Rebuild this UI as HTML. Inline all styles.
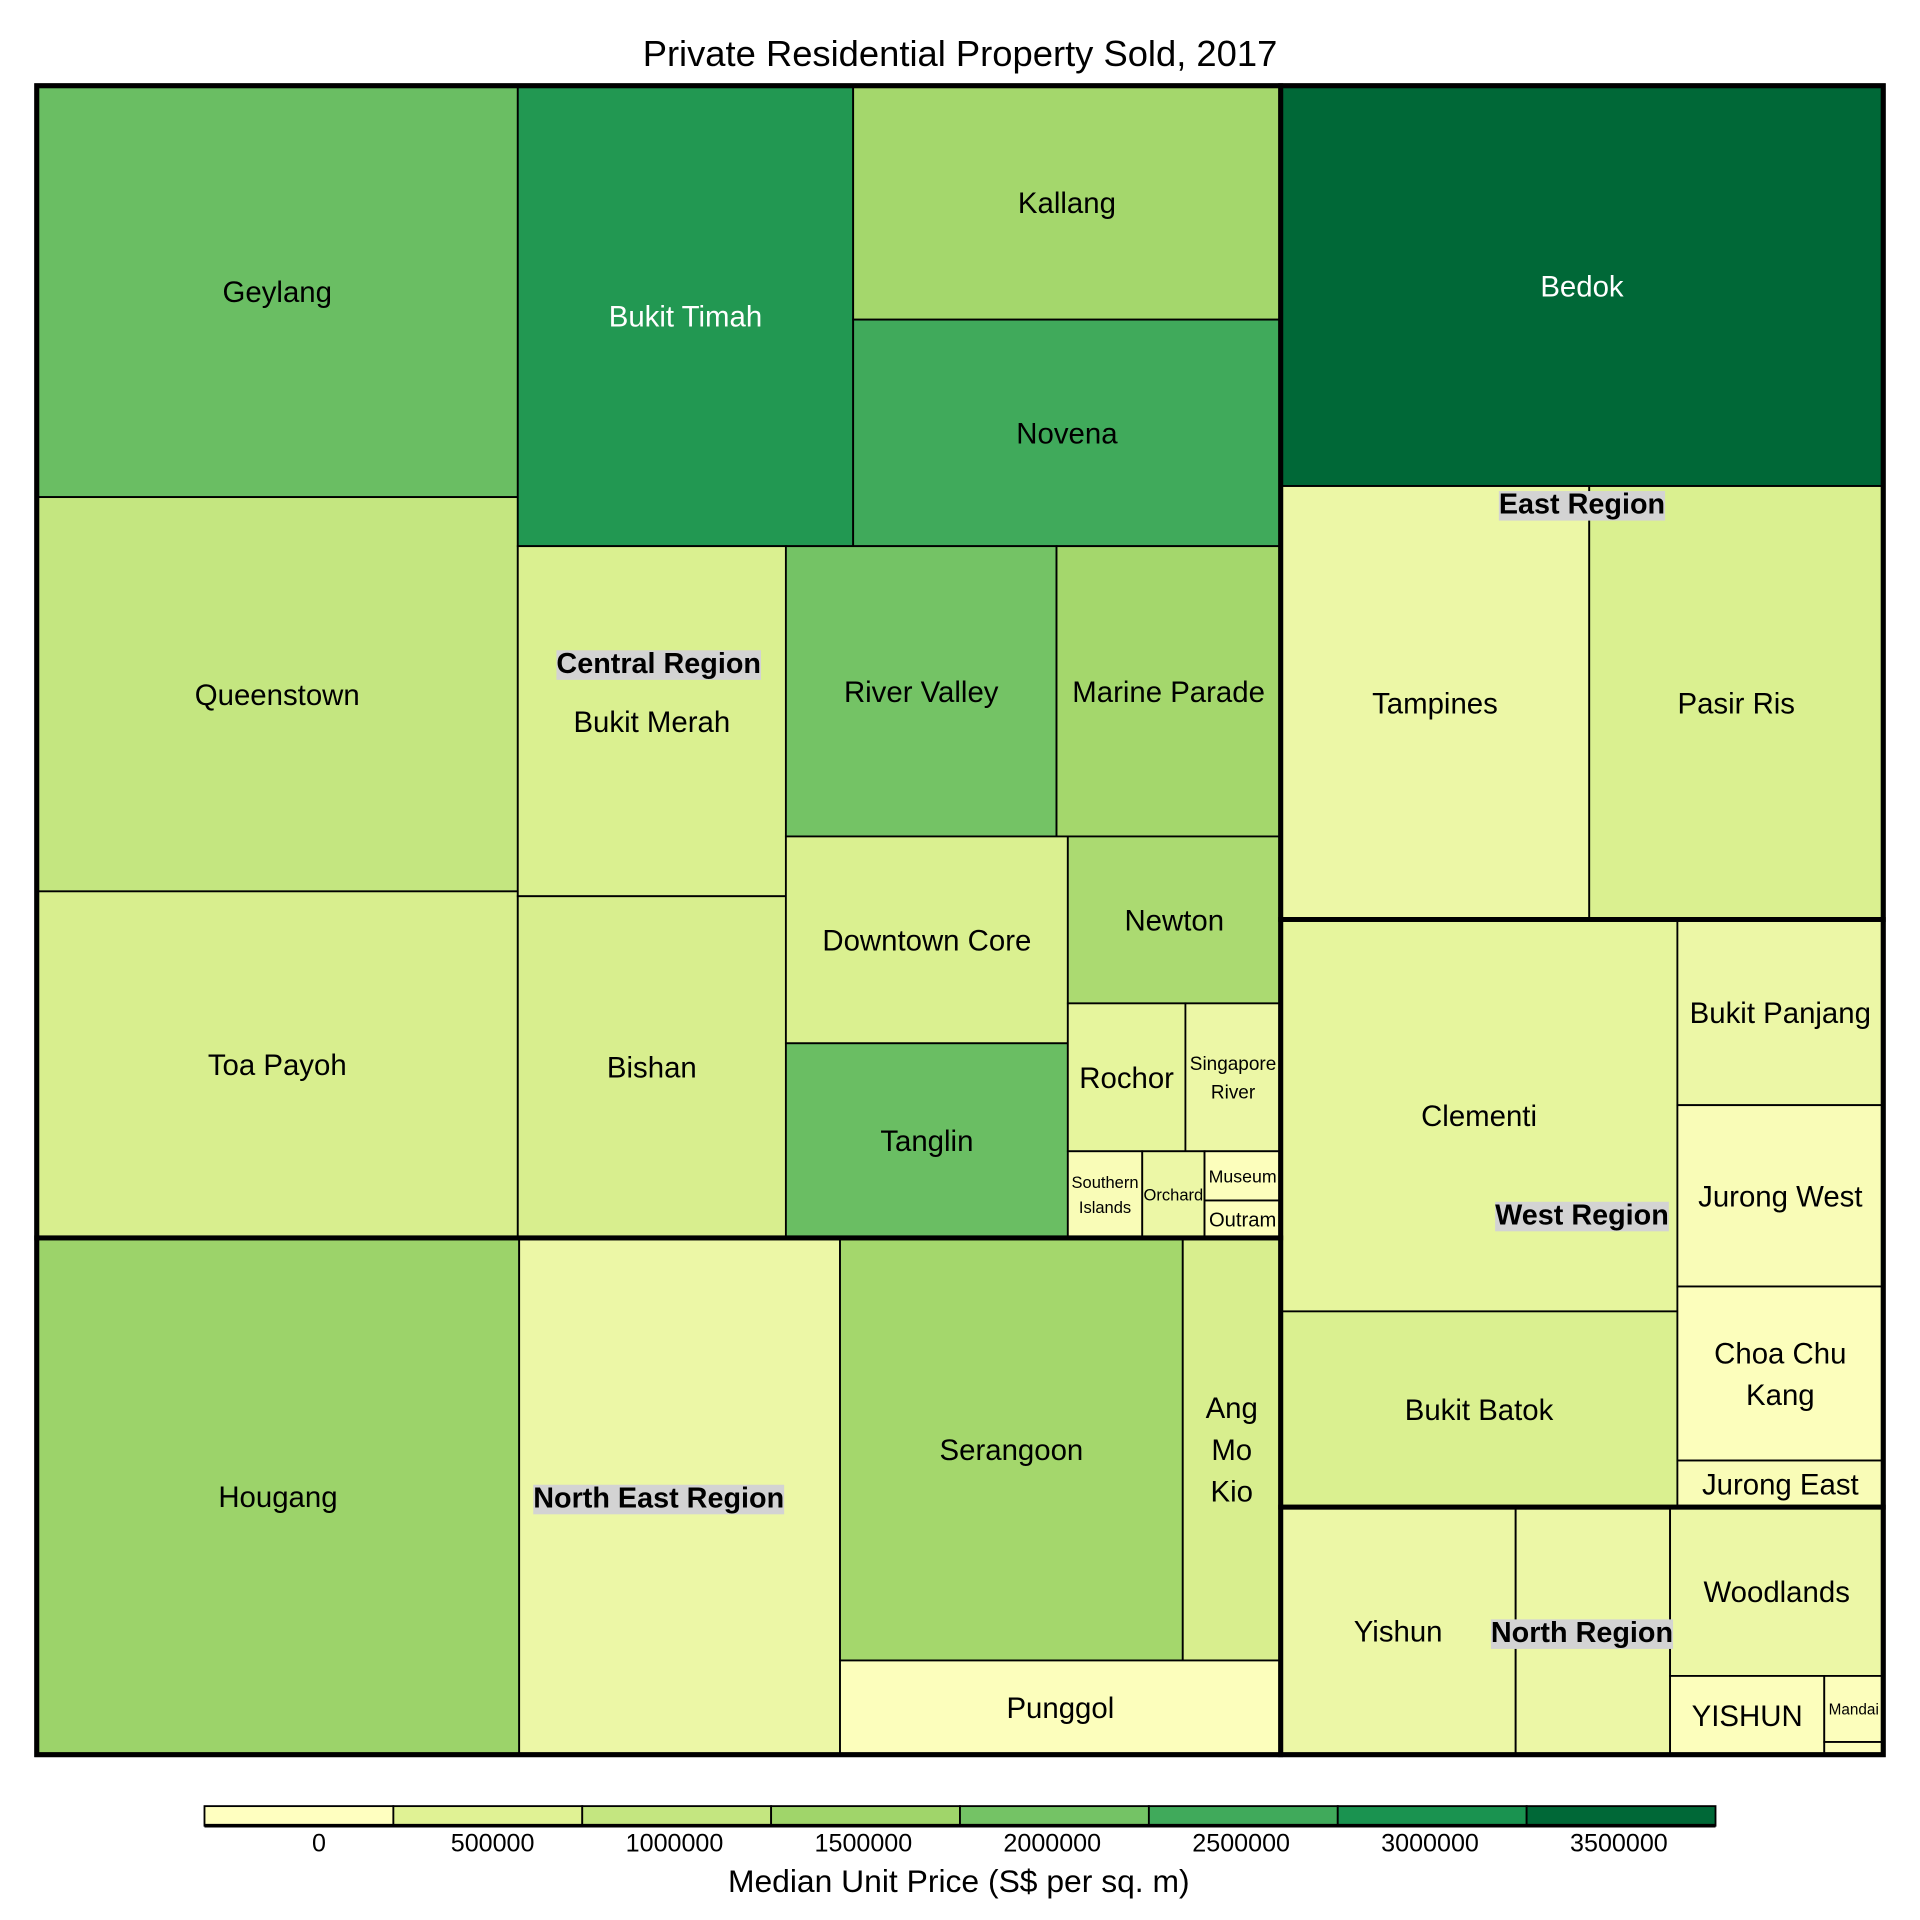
<!DOCTYPE html>
<html><head><meta charset="utf-8"><style>
html,body{margin:0;padding:0;background:#fff}
svg{display:block}
text{font-family:"Liberation Sans",Arial,sans-serif}
</style></head><body>
<svg id="chart" width="1920" height="1920" viewBox="0 0 1568 1568" xmlns="http://www.w3.org/2000/svg">
<text x="784" y="54" text-anchor="middle" font-size="29.7">Private Residential Property Sold, 2017</text>
<g id="cells"></g>
<g id="borders"></g>
<g id="rlabels"></g>
<g id="legend"></g>
</svg>
<script>
const names = ["Geylang","Queenstown","Toa Payoh","Bukit Timah","Kallang","Novena","Bukit Merah","Bishan","River Valley","Marine Parade","Downtown Core","Tanglin","Newton","Rochor","Singapore\nRiver","Southern\nIslands","Orchard","Museum","Outram",
"Hougang","","Serangoon","Ang\nMo\nKio","Punggol",
"Bedok","Tampines","Pasir Ris",
"Clementi","Bukit Batok","Bukit Panjang","Jurong West","Choa Chu\nKang","Jurong East",
"Yishun","","Woodlands","YISHUN","Mandai",""];
const areas = [1320,1265,1112,1030,667,646,626,611,524,434,389,366,237,116,94,43,36,25,19,
1663,1106,966,276,277,
1609,892,850,
1037,518,255,249,239,64,
388,255,240,81,26,5];
const prices = [2100000,1000000,650000,2900000,1450000,2500000,600000,650000,2000000,1450000,600000,2100000,1350000,400000,300000,100000,300000,50000,50000,
1550000,300000,1450000,650000,50000,
3500000,300000,600000,
400000,600000,300000,100000,50000,100000,
300000,300000,300000,50000,50000,50000];
const fontSizes = {14:15.5,15:13.5,16:13.5,17:14.5,18:16.5,37:12.5};
const regionNames = ["Central Region","North East Region","East Region","West Region","North Region"];
const tickValues = [0,500000,1000000,1500000,2000000,2500000,3000000,3500000];
const tickLabels = ["0","500000","1000000","1500000","2000000","2500000","3000000","3500000"];
const stopColors = ["#ffffc0","#e0f294","#c4e680","#a0d56a","#74c365","#40aa5b","#1a9350","#006837"];

const tree = {d:'h',c:[
 {d:'v',c:[
   {d:'h',region:0,c:[
     {d:'v',c:[0,1,2]},
     {d:'v',c:[
       {d:'h',c:[3,{d:'v',c:[4,5]}]},
       {d:'h',c:[
         {d:'v',c:[6,7]},
         {d:'v',c:[
           {d:'h',c:[8,9]},
           {d:'h',c:[
             {d:'v',c:[10,11]},
             {d:'v',c:[12,{d:'h',c:[13,14]},{d:'h',c:[15,16,{d:'v',c:[17,18]}]}]}
           ]}
         ]}
       ]}
     ]}
   ]},
   {d:'h',region:1,c:[19,20,{d:'v',c:[{d:'h',c:[21,22]},23]}]}
 ]},
 {d:'v',c:[
   {d:'v',region:2,c:[24,{d:'h',c:[25,26]}]},
   {d:'h',region:3,c:[{d:'v',c:[27,28]},{d:'v',c:[29,30,31,32]}]},
   {d:'h',region:4,c:[33,34,{d:'v',c:[35,{d:'h',c:[36,{d:'v',c:[37,38]}]}]}]}
 ]}
]};
const X0=30,Y0=70,X1=1538,Y1=1433;
const NS="http://www.w3.org/2000/svg";
function mk(tag,attrs,parent){const e=document.createElementNS(NS,tag);for(const k in attrs)e.setAttribute(k,attrs[k]);parent.appendChild(e);return e;}
function sum(n){return typeof n==='number'?areas[n]:n.c.reduce((s,c)=>s+sum(c),0);}
function hex(c){return [1,3,5].map(i=>parseInt(c.substr(i,2),16));}
function color(v){const step=tickValues[1]-tickValues[0];let t=v/step;let i=Math.max(0,Math.min(stopColors.length-2,Math.floor(t)));let f=Math.max(0,Math.min(1,t-i));const a=hex(stopColors[i]),b=hex(stopColors[i+1]);return 'rgb('+a.map((x,k)=>Math.round(x+(b[k]-x)*f)).join(',')+')';}
const cells=document.getElementById('cells'),borders=document.getElementById('borders'),rl=document.getElementById('rlabels');
function slug(s){return s.toLowerCase().replace(/\n/g,' ').replace(/[^a-z0-9]+/g,'-').replace(/^-|-$/g,'');}
function layout(n,x,y,w,h){
 if(typeof n==='number'){
  const g=mk('g',{},cells);
  
  
  mk('rect',{x:x,y:y,width:w,height:h,fill:color(prices[n]),stroke:'#000','stroke-width':1.5},g);
  if(names[n]){
   const lines=names[n].split('\n');const fs=fontSizes[n]||24;const lh=fs<20?fs*1.5:34;
   const cx=x+w/2,cy=y+h/2;
   lines.forEach((ln,k)=>{
    const t=mk('text',{x:cx,y:cy+(k-(lines.length-1)/2)*lh+fs*0.36,'text-anchor':'middle','font-size':fs,fill:prices[n]>2700000?'#fff':'#000'},g);
    t.textContent=ln;
   });
  }
  return;
 }
 const tot=sum(n);let off=0;
 n.c.forEach(c=>{const s=sum(c)/tot;
  if(n.d==='h'){layout(c,x+off,y,w*s,h);off+=w*s;}else{layout(c,x,y+off,w,h*s);off+=h*s;}});
 if(n.region!==undefined){
  const b=mk('rect',{x:x,y:y,width:w,height:h,fill:'none',stroke:'#000','stroke-width':4},borders);
  
  
  const g=mk('g',{},rl);
  
  
  const t=mk('text',{x:x+w/2,y:y+h/2+9,'text-anchor':'middle','font-size':23.5,'font-weight':'bold'},g);
  t.textContent=regionNames[n.region];
  const bb=t.getBBox();
  const r=mk('rect',{x:bb.x,y:bb.y+2,width:bb.width,height:bb.height-2,fill:'#d3d3d3'},g);
  g.insertBefore(r,t);
 }
}
layout(tree,X0,Y0,X1-X0,Y1-Y0);
const ob=mk('rect',{x:X0,y:Y0,width:X1-X0,height:Y1-Y0,fill:'none',stroke:'#000','stroke-width':4},borders);


const lg=document.getElementById('legend');
const LX0=167,LX1=1401,LY=1475,LH=16;
const bw=(LX1-LX0)/stopColors.length;
stopColors.forEach((c,i)=>{
 const r=mk('rect',{x:LX0+i*bw,y:LY,width:bw,height:LH,fill:c,stroke:'#000','stroke-width':1.5},lg);
 
 
});
mk('line',{x1:LX0,y1:LY+LH,x2:LX1,y2:LY+LH,stroke:'#000','stroke-width':3},lg);
const step=tickValues[1]-tickValues[0];
tickValues.forEach((v,i)=>{
 const t=mk('text',{x:LX0+bw*(v/step+1)-39-(i===0?16:0),y:1512,'text-anchor':'end','font-size':20.5},lg);
 
 
 t.textContent=tickLabels[i];
});
const lt=mk('text',{x:783,y:1545,'text-anchor':'middle','font-size':26},lg);


lt.textContent='Median Unit Price (S$ per sq. m)';
</script>
</body></html>
